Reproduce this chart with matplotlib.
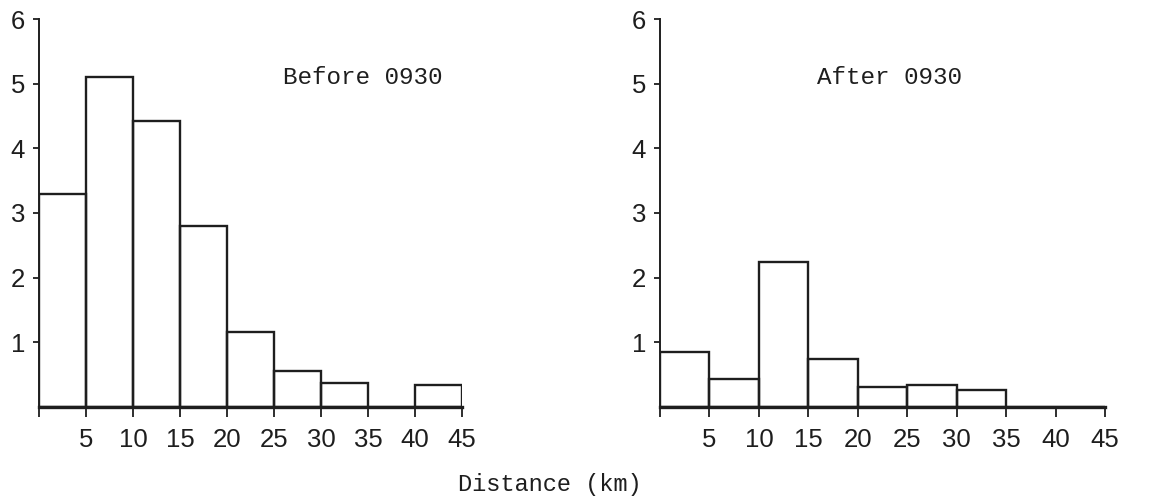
import matplotlib.pyplot as plt
import numpy as np

# --- dane ---
bin_edges = [0, 5, 10, 15, 20, 25, 30, 35, 40]
before_counts = [3.3, 5.1, 4.43, 2.8, 1.16, 0.55, 0.37, 0.0, 0.34]
after_counts = [0.85, 0.43, 2.24, 0.74, 0.31, 0.34, 0.26, 0.0, 0.0]
x_ticks = [0, 5, 10, 15, 20, 25, 30, 35, 40, 45]
x_tick_labels = ['', '5', '10', '15', '20', '25', '30', '35', '40', '45']
y_ticks = [1, 2, 3, 4, 5, 6]
titles = ['Before 0930', 'After 0930']
x_label = 'Distance (km)'

INK = '#1e1e1e'
MONO = 'Liberation Mono'
SANS = 'Liberation Sans'

fig = plt.figure(figsize=(11.65, 4.99), dpi=100)

ax_left = fig.add_axes([39 / 1165, 92 / 499, 423 / 1165, 388 / 499])
ax_right = fig.add_axes([660 / 1165, 92 / 499, 445 / 1165, 388 / 499])

for ax, counts, title, tx in [(ax_left, before_counts, titles[0], 0.765),
                              (ax_right, after_counts, titles[1], 0.515)]:
    ax.bar(bin_edges, counts, width=5, align='edge', fill=False,
           edgecolor=INK, linewidth=1.7, zorder=2)
    ax.set_xlim(0, 45)
    ax.set_ylim(0, 6)
    ax.spines['top'].set_visible(False)
    ax.spines['right'].set_visible(False)
    ax.spines['left'].set_color(INK)
    ax.spines['left'].set_linewidth(1.4)
    ax.spines['bottom'].set_color(INK)
    ax.spines['bottom'].set_linewidth(2.4)
    ax.set_xticks(x_ticks)
    ax.set_xticklabels(x_tick_labels, fontfamily=SANS, fontsize=18.5)
    ax.set_yticks(y_ticks)
    ax.set_yticklabels([str(v) for v in y_ticks], fontfamily=SANS, fontsize=18.5)
    ax.tick_params(axis='x', direction='out', length=7, width=1.3,
                   pad=8, colors=INK)
    ax.tick_params(axis='y', direction='out', length=4, width=1.3,
                   pad=6, colors=INK)
    ax.patch.set_alpha(0)
    ax.text(tx, 0.85, title, transform=ax.transAxes, ha='center',
            va='center', fontfamily=MONO, fontsize=17.5, color=INK)

fig.text(550 / 1165, 1 - 484 / 499, x_label, ha='center', va='center',
         fontfamily=MONO, fontsize=17, color=INK)

fig.savefig('out.png', dpi=100, facecolor='white')
